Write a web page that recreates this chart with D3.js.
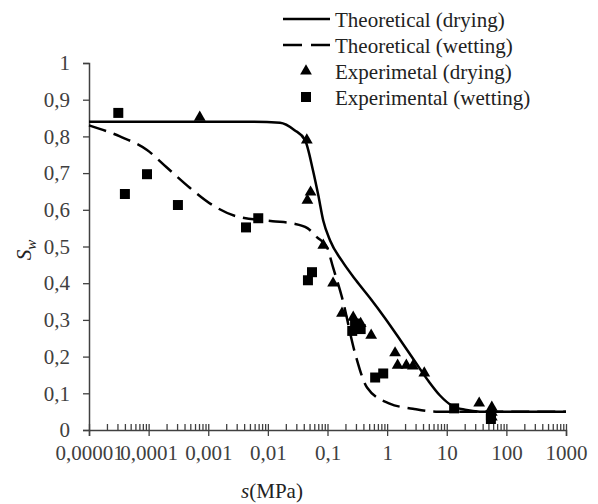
<!DOCTYPE html>
<html>
<head>
<meta charset="utf-8">
<script src="https://cdn.jsdelivr.net/npm/d3@7"></script>
<style>
  body { margin: 0; background: #fff; }
  svg text { font-family: "Liberation Serif", "Times New Roman", serif; }
</style>
</head>
<body>
<svg id="chart" width="598" height="504"></svg>
<script>
'use strict';

// theoretical curves
var dryCurveS  = [0.00001, 0.005, 0.016, 0.028, 0.042, 0.057, 0.07, 0.085, 0.11, 0.176, 0.30, 0.52, 0.93, 1.65, 2.95, 4.9, 7.7, 12.3, 20.3, 36, 1000];
var dryCurveSw = [0.84, 0.84, 0.837, 0.817, 0.79, 0.708, 0.64, 0.57, 0.517, 0.46, 0.408, 0.359, 0.304, 0.246, 0.186, 0.134, 0.094, 0.066, 0.055, 0.05, 0.05];

var wetCurveS  = [0.00001, 0.000033, 0.000094, 0.0002, 0.00049, 0.0012, 0.003, 0.012, 0.026, 0.046, 0.067, 0.098, 0.124, 0.176, 0.29, 0.46, 1.1, 2.7, 6.6, 1000];
var wetCurveSw = [0.83, 0.80, 0.763, 0.716, 0.66, 0.612, 0.582, 0.569, 0.563, 0.55, 0.525, 0.498, 0.443, 0.36, 0.209, 0.116, 0.072, 0.058, 0.05, 0.05];

// measured points
var dryExpS  = [0.00072, 0.045, 0.052, 0.046, 0.085, 0.124, 0.175, 0.27, 0.36, 0.54, 1.36, 1.5, 2.1, 2.7, 4.2, 35, 57, 57, 57];
var dryExpSw = [0.852, 0.79, 0.648, 0.626, 0.503, 0.40, 0.318, 0.307, 0.29, 0.258, 0.21, 0.176, 0.176, 0.174, 0.155, 0.073, 0.062, 0.048, 0.035];

var wetExpS  = [0.000031, 0.00004, 0.000094, 0.00031, 0.0043, 0.0069, 0.055, 0.047, 0.26, 0.36, 0.29, 0.63, 0.86, 13.3, 55, 55];
var wetExpSw = [0.864, 0.643, 0.697, 0.613, 0.552, 0.577, 0.43, 0.408, 0.27, 0.275, 0.29, 0.143, 0.154, 0.059, 0.04, 0.03];

var xTicks = [0.00001, 0.0001, 0.001, 0.01, 0.1, 1, 10, 100, 1000];
var yTicks = [0, 0.1, 0.2, 0.3, 0.4, 0.5, 0.6, 0.7, 0.8, 0.9, 1];

var legendLabels = ['Theoretical (drying)', 'Theoretical (wetting)', 'Experimetal (drying)', 'Experimental (wetting)'];

var axisColor = '#404040';
var fontSize = 21;

var svg = d3.select('#chart');

var x = d3.scaleLog().domain([0.00001, 1000]).range([89, 566]);
var y = d3.scaleLinear().domain([0, 1]).range([430, 63]);

function commaNum(v) {
	return String(v).replace('.', ',');
}

// minor ticks for the log axis
var minorTicks = [];
xTicks.slice(0, -1).forEach(function(d) {
	for (var k = 2; k <= 9; k++) minorTicks.push(d * k);
});

// x axis: major ticks cross, minor ticks point up
var xAxisG = svg.append('g').attr('transform', 'translate(0,430)');
xAxisG.call(d3.axisBottom(x).tickValues(xTicks).tickSize(6).tickPadding(9).tickFormat(commaNum));
svg.append('g').attr('transform', 'translate(0,430)')
	.call(d3.axisBottom(x).tickValues(xTicks.concat(minorTicks)).tickSize(-6).tickFormat(''))
	.select('.domain').remove();

var yAxisG = svg.append('g').attr('transform', 'translate(89,0)');
yAxisG.call(d3.axisLeft(y).tickValues(yTicks).tickSize(6).tickPadding(13)
	.tickFormat(function(d){ return commaNum(d); }));

svg.selectAll('.domain').attr('stroke', axisColor).attr('stroke-width', 1.5);
svg.selectAll('.tick line').attr('stroke', axisColor).attr('stroke-width', 1.3);
svg.selectAll('.tick text')
	.attr('fill', axisColor)
	.style('font-size', fontSize + 'px')
	.style('font-family', '"Liberation Serif", serif');

// curves
var line = d3.line()
	.x(function(d){ return x(d[0]); })
	.y(function(d){ return y(d[1]); })
	.curve(d3.curveMonotoneX);

var dryCurve = d3.zip(dryCurveS, dryCurveSw);
var wetCurve = d3.zip(wetCurveS, wetCurveSw);

svg.append('path').datum(dryCurve)
	.attr('d', line)
	.attr('fill', 'none')
	.attr('stroke', '#000')
	.attr('stroke-width', 2.5);

svg.append('path').datum(wetCurve)
	.attr('d', line)
	.attr('fill', 'none')
	.attr('stroke', '#000')
	.attr('stroke-width', 2.5)
	.attr('stroke-dasharray', '18,8');

// markers
var tri = d3.symbol().type(d3.symbolTriangle).size(60);
var sq = d3.symbol().type(d3.symbolSquare).size(100);

svg.append('g').selectAll('path')
	.data(d3.zip(dryExpS, dryExpSw))
	.enter().append('path')
	.attr('d', tri)
	.attr('transform', function(d){ return 'translate(' + x(d[0]) + ',' + y(d[1]) + ')'; })
	.attr('fill', '#000');

svg.append('g').selectAll('path')
	.data(d3.zip(wetExpS, wetExpSw))
	.enter().append('path')
	.attr('d', sq)
	.attr('transform', function(d){ return 'translate(' + x(d[0]) + ',' + y(d[1]) + ')'; })
	.attr('fill', '#000');

// legend
var legend = svg.append('g');
var rowY = [19, 45, 71, 97];
legend.selectAll('text')
	.data(legendLabels)
	.enter().append('text')
	.attr('x', 335)
	.attr('y', function(d, i){ return rowY[i] + 8; })
	.style('font-size', fontSize + 'px')
	.attr('fill', '#222')
	.text(function(d){ return d; });

legend.append('line')
	.attr('x1', 283).attr('x2', 330).attr('y1', rowY[0]).attr('y2', rowY[0])
	.attr('stroke', '#000').attr('stroke-width', 2.5);
legend.append('line')
	.attr('x1', 283).attr('x2', 330).attr('y1', rowY[1]).attr('y2', rowY[1])
	.attr('stroke', '#000').attr('stroke-width', 2.5)
	.attr('stroke-dasharray', '19,9');
legend.append('path').attr('d', tri)
	.attr('transform', 'translate(306,' + rowY[2] + ')');
legend.append('path').attr('d', sq)
	.attr('transform', 'translate(306,' + rowY[3] + ')');

// axis titles
var xTitle = svg.append('text')
	.attr('x', 272).attr('y', 498)
	.attr('text-anchor', 'middle')
	.style('font-size', fontSize + 'px')
	.attr('fill', '#222');
xTitle.append('tspan').style('font-style', 'italic').text('s');
xTitle.append('tspan').text('(MPa)');

var yTitle = svg.append('text')
	.attr('transform', 'translate(31,250) rotate(-90)')
	.attr('text-anchor', 'middle')
	.style('font-size', fontSize + 'px')
	.style('font-style', 'italic')
	.attr('fill', '#222');
yTitle.append('tspan').text('S');
yTitle.append('tspan').attr('dy', 5).style('font-size', '15px').text('w');
</script>
</body>
</html>
